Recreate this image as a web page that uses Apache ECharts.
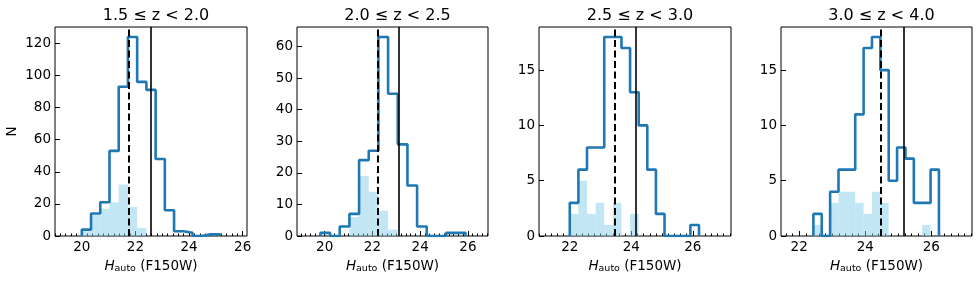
<!DOCTYPE html>
<html>
<head>
<meta charset="utf-8">
<script src="https://cdn.jsdelivr.net/npm/echarts@6/dist/echarts.min.js"></script>
<style>
html, body { margin: 0; padding: 0; background: #fff; }
#chart { width: 980px; height: 298px; }
</style>
</head>
<body>
<div id="chart"></div>
<script>
// panel titles
const titles = ['1.5 ≤ z < 2.0', '2.0 ≤ z < 2.5', '2.5 ≤ z < 3.0', '3.0 ≤ z < 4.0'];

// histogram bins: first edge and bin width of each panel
const binStart = [20.0, 19.82, 22.0, 22.43];
const binWidth = [0.344, 0.405, 0.28, 0.2533];

// whole sample (step outline)
const countsAll1 = [4, 14, 21, 53, 93, 124, 96, 91, 48, 16, 3, 2, 0, 1, 1];
const countsAll2 = [1, 0, 3, 7, 24, 27, 63, 45, 29, 16, 3, 0, 0, 1, 1];
const countsAll3 = [3, 6, 8, 8, 18, 18, 17, 13, 10, 6, 2, 0, 0, 0, 1];
const countsAll4 = [2, 0, 4, 6, 6, 11, 17, 18, 15, 5, 8, 7, 3, 3, 6];

// subsample (filled bars)
const countsSub1 = [3, 13, 17, 21, 32, 18, 5, 0, 0, 0, 0, 0, 0, 0, 0];
const countsSub2 = [0, 0, 0, 6, 19, 14, 8, 2, 0, 0, 0, 0, 0, 0, 0];
const countsSub3 = [2, 5, 2, 3, 1, 3, 0, 2, 0, 0, 0, 0, 0, 0, 0];
const countsSub4 = [1, 0, 3, 4, 4, 3, 2, 4, 3, 0, 0, 0, 0, 1, 0];

// vertical lines
const dashedLine = [21.74, 22.22, 23.46, 24.46];
const solidLine = [22.56, 23.11, 24.15, 25.17];

// axis ranges and tick labels
const xMin = [19.0, 18.84, 21.0, 21.45];
const xMax = [26.16, 26.84, 27.24, 27.23];
const xTicks = [[20, 22, 24, 26], [20, 22, 24, 26], [22, 24, 26], [22, 24, 26]];
const yMax = [130.2, 66.15, 18.9, 18.9];
const yTicks = [[0, 20, 40, 60, 80, 100, 120], [0, 10, 20, 30, 40, 50, 60], [0, 5, 10, 15], [0, 5, 10, 15]];

const countsAll = [countsAll1, countsAll2, countsAll3, countsAll4];
const countsSub = [countsSub1, countsSub2, countsSub3, countsSub4];

const gridLeft = [55, 297, 539, 781];
const gridWidth = [192, 191, 192, 191];
const font = 'DejaVu Sans';

// minor ticks every 0.2 (skip the major ones)
function minorTicks(min, max, majors) {
  const out = [];
  for (let k = Math.ceil(min / 0.2); k * 0.2 <= max; k++) {
    const v = Math.round(k * 0.2 * 100) / 100;
    if (majors.indexOf(v) < 0) out.push(v);
  }
  return out;
}

const grid = [], xAxis = [], yAxis = [], title = [], series = [];

for (let i = 0; i < 4; i++) {
  grid.push({
    left: gridLeft[i], top: 27, width: gridWidth[i], height: 209,
    show: true, borderColor: '#000', borderWidth: 1
  });
  title.push({
    text: titles[i], left: gridLeft[i] + gridWidth[i] / 2, top: 3, textAlign: 'center',
    textStyle: { fontSize: 16, fontWeight: 'normal', color: '#000', fontFamily: font }
  });
  xAxis.push({
    type: 'value', gridIndex: i, position: 'bottom', min: xMin[i], max: xMax[i],
    axisLine: { show: false },
    splitLine: { show: false },
    axisTick: { inside: true, length: 5, customValues: xTicks[i], lineStyle: { color: '#000' } },
    axisLabel: { customValues: xTicks[i], margin: 4, fontSize: 13.5, color: '#000', fontFamily: font },
    name: '{i|H}{s|auto} (F150W)',
    nameLocation: 'middle', nameGap: 22,
    nameTextStyle: {
      fontSize: 13.5, color: '#000', fontFamily: font,
      rich: {
        i: { fontSize: 13.5, fontStyle: 'italic', color: '#000', fontFamily: font },
        s: { fontSize: 9.5, color: '#000', fontFamily: font, padding: [6, 0, 0, 0], verticalAlign: 'bottom' }
      }
    }
  });
  xAxis.push({
    type: 'value', gridIndex: i, position: 'bottom', offset: 0, min: xMin[i], max: xMax[i],
    axisLine: { show: false },
    splitLine: { show: false },
    axisTick: { inside: true, length: 2.5, customValues: minorTicks(xMin[i], xMax[i], xTicks[i]), lineStyle: { color: '#000' } },
    axisLabel: { show: false }
  });
  yAxis.push({
    type: 'value', gridIndex: i, min: 0, max: yMax[i],
    axisLine: { show: false },
    splitLine: { show: false },
    axisTick: { inside: true, length: 5, customValues: yTicks[i], lineStyle: { color: '#000' } },
    axisLabel: { customValues: yTicks[i], margin: 4, fontSize: 13.5, color: '#000', fontFamily: font },
    name: i === 0 ? 'N' : '',
    nameLocation: 'middle', nameGap: 36, nameRotate: 90,
    nameTextStyle: { fontSize: 13.5, color: '#000', fontFamily: font }
  });

  const start = binStart[i], w = binWidth[i];
  const bars = [];
  const steps = [[start, 0]];
  countsAll[i].forEach((c, k) => {
    steps.push([start + k * w, c]);
    steps.push([start + (k + 1) * w, c]);
  });
  steps.push([start + countsAll[i].length * w, 0]);
  countsSub[i].forEach((c, k) => {
    if (c > 0) bars.push([start + k * w, start + (k + 1) * w, c]);
  });

  series.push({
    type: 'custom', xAxisIndex: 2 * i, yAxisIndex: i,
    data: bars, z: 1,
    encode: { x: [0, 1], y: 2 },
    renderItem: function (params, api) {
      const p0 = api.coord([api.value(0), api.value(2)]);
      const p1 = api.coord([api.value(1), 0]);
      return {
        type: 'rect',
        shape: { x: p0[0], y: p0[1], width: p1[0] - p0[0], height: p1[1] - p0[1] },
        style: { fill: 'rgba(135, 206, 235, 0.5)' }
      };
    }
  });
  series.push({
    type: 'line', xAxisIndex: 2 * i, yAxisIndex: i,
    data: steps, showSymbol: false, symbol: 'none', z: 2,
    lineStyle: { color: '#1f77b4', width: 2.6 },
    markLine: {
      silent: true, symbol: ['none', 'none'], label: { show: false },
      data: [
        { xAxis: dashedLine[i], lineStyle: { color: '#000', width: 2, type: [7, 3.5] } },
        { xAxis: solidLine[i], lineStyle: { color: '#000', width: 1.6, type: 'solid' } }
      ]
    }
  });
}

const chart = echarts.init(document.getElementById('chart'));
chart.setOption({
  animation: false,
  textStyle: { fontFamily: font },
  title: title,
  grid: grid,
  xAxis: xAxis,
  yAxis: yAxis,
  series: series
});
</script>
</body>
</html>
